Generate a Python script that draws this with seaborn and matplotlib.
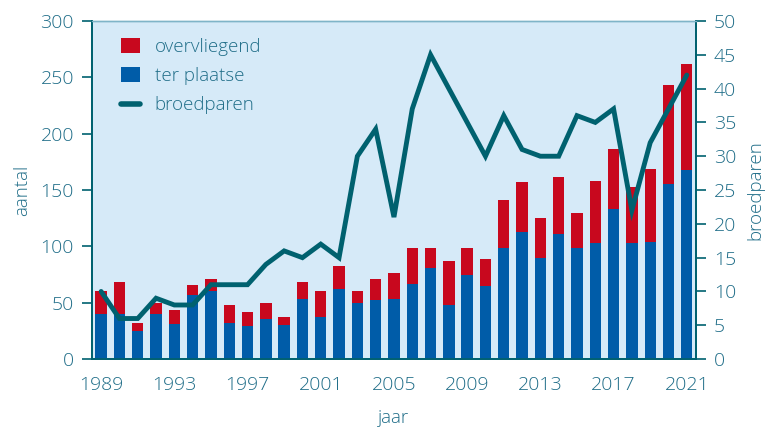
import matplotlib
matplotlib.use("Agg")
import matplotlib.pyplot as plt
import seaborn as sns
import numpy as np
import pandas as pd
from matplotlib.patches import Patch
from matplotlib.lines import Line2D


# data
years = list(range(1989, 2022))
ter_plaatse = [40, 40, 25, 40, 31, 57, 60, 32, 29, 36, 30, 53, 37, 62, 50, 52, 53,
               67, 81, 48, 75, 65, 99, 113, 90, 111, 99, 103, 133, 103, 104, 155, 168]
totaal = [60, 68, 32, 50, 44, 66, 71, 48, 42, 50, 37, 68, 60, 83, 60, 71, 76,
          99, 99, 87, 99, 89, 141, 157, 125, 162, 130, 158, 186, 153, 169, 243, 262]
broedparen = [10, 6, 6, 9, 8, 8, 11, 11, 11, 14, 16, 15, 17, 15, 30, 34, 21,
              37, 45, 40, 35, 30, 36, 31, 30, 30, 36, 35, 37, 22, 32, 37, 42]
year_labels = [1989, 1993, 1997, 2001, 2005, 2009, 2013, 2017, 2021]

df = pd.DataFrame({"jaar": years, "ter plaatse": ter_plaatse,
                   "totaal": totaal, "broedparen": broedparen})

BLUE = "#005ca8"
RED = "#c8081e"
LINE = "#00616f"
TEXT = "#1f6d88"
BG = "#d6eaf8"

sns.set_style("white")
plt.rcParams["font.family"] = ["Open Sans", "DejaVu Sans"]
plt.rcParams["font.weight"] = "light"
plt.rcParams["axes.labelweight"] = "light"
plt.rcParams["font.size"] = 13

fig = plt.figure(figsize=(7.69, 4.28), dpi=100)
ax = fig.add_axes([0.1196, 0.161, 0.7854, 0.790])
ax.set_facecolor(BG)

pos = np.arange(len(years))

# stacked bars: total (red) behind, ter plaatse (blue) in front
sns.barplot(x=pos, y=df["totaal"], color=RED, width=0.62, saturation=1,
            native_scale=True, linewidth=0, ax=ax, zorder=2)
sns.barplot(x=pos, y=df["ter plaatse"], color=BLUE, width=0.62, saturation=1,
            native_scale=True, linewidth=0, ax=ax, zorder=3)

ax.set_xlim(-0.5, len(years) - 0.5)
ax.set_ylim(0, 300)
ax.set_yticks(range(0, 301, 50))

ax2 = ax.twinx()
sns.lineplot(x=pos, y=df["broedparen"], color=LINE, linewidth=3.5, ax=ax2,
             zorder=4, solid_joinstyle="miter")
ax2.set_ylim(0, 50)
ax2.set_yticks(range(0, 51, 5))
ax2.set_xlim(-0.5, len(years) - 0.5)

# x ticks: labels at bar centres, small ticks at bar edges
lab_pos = [years.index(y) for y in year_labels]
ax.set_xticks(lab_pos)
ax.set_xticklabels([str(y) for y in year_labels])
ax.set_xticks(np.arange(-0.5, len(years)), minor=True)
ax.tick_params(axis="x", which="major", length=0, pad=12, colors=TEXT, labelsize=14)
ax.tick_params(axis="x", which="minor", length=7, width=1.2, color=LINE, direction="out")
ax.tick_params(axis="y", length=7, width=1.2, color=LINE, labelcolor=TEXT, labelsize=14, pad=6)
ax2.tick_params(axis="y", length=7, width=1.2, color=LINE, labelcolor=TEXT, labelsize=14, pad=6)

ax.set_xlabel("jaar", color=TEXT, fontsize=13.5, labelpad=11)
ax.set_ylabel("aantal", color=TEXT, fontsize=13.5, labelpad=7)
ax2.set_ylabel("broedparen", color=TEXT, fontsize=13.5, rotation=90, labelpad=7)

for a in (ax, ax2):
    for side in ("left", "right", "bottom"):
        a.spines[side].set_color(LINE)
        a.spines[side].set_linewidth(1.3)
    a.spines["top"].set_color("#7fb4c8")
    a.spines["top"].set_linewidth(1.0)

handles = [Patch(facecolor=RED, edgecolor="none"),
           Patch(facecolor=BLUE, edgecolor="none"),
           Line2D([0], [0], color=LINE, linewidth=4, solid_capstyle="round")]
ax2.legend(handles, ["overvliegend", "ter plaatse", "broedparen"],
           loc="upper left", bbox_to_anchor=(0.02, 1.0), frameon=False,
           labelcolor=TEXT, fontsize=13.5, handlelength=1.0, handleheight=0.8,
           handletextpad=0.8, labelspacing=0.6)

fig.savefig("out.png", dpi=100)
